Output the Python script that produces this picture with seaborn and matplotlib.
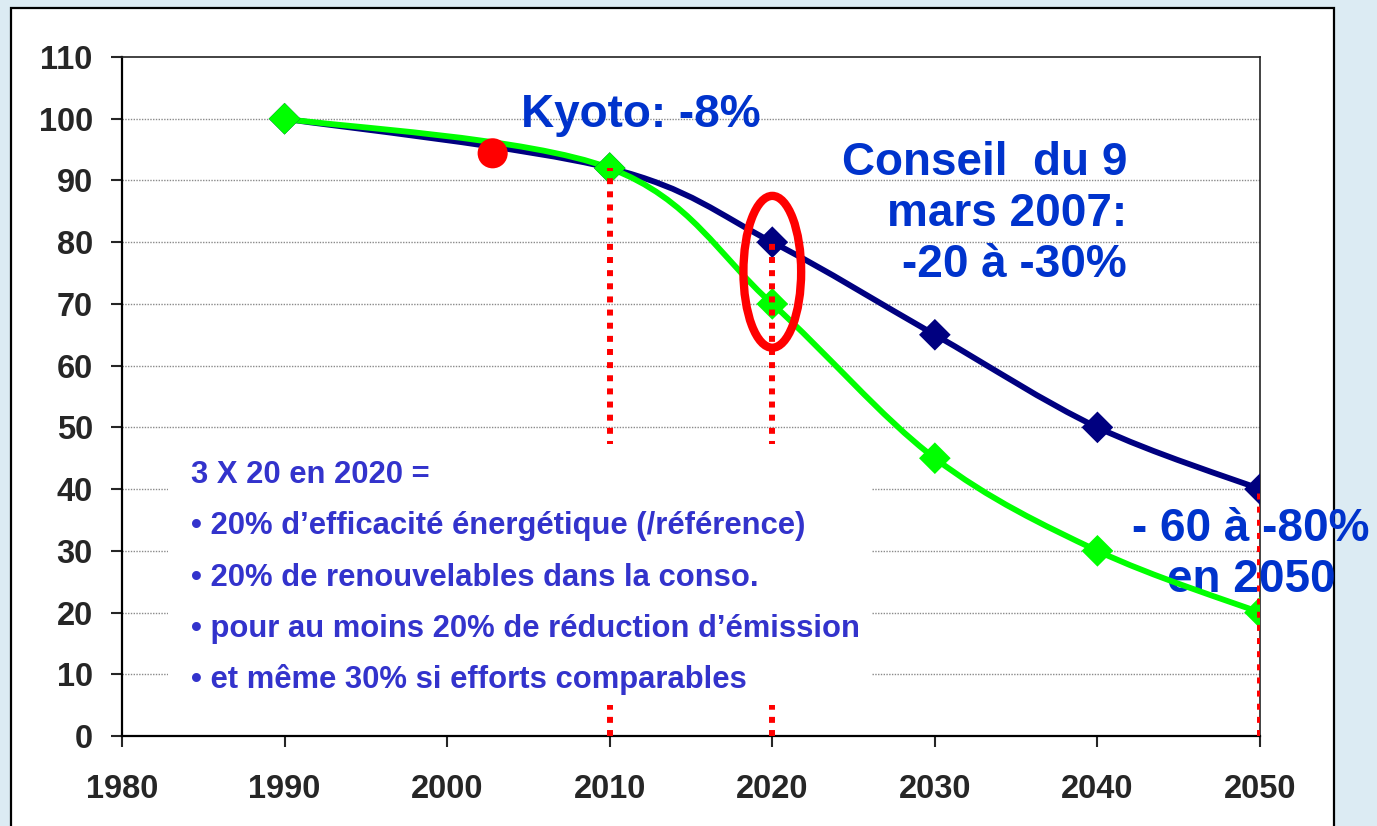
import matplotlib
matplotlib.use('Agg')
import matplotlib.pyplot as plt
import seaborn as sns
import pandas as pd
from matplotlib.path import Path
from matplotlib.patches import PathPatch, Ellipse, Rectangle

#----------------------------------------------------
years=[1990, 2010, 2020, 2030, 2040, 2050]
conseil=[100, 92, 80, 65, 50, 40]   # -20 a -30% puis -60 a -80%
objectif=[100, 92, 70, 45, 30, 20]
kyoto_year=2002.8
kyoto_val=94.4
drop_years=[2010, 2020, 2050]
drop_vals=[92, 80, 40]
x_ticks=[1980, 1990, 2000, 2010, 2020, 2030, 2040, 2050]
y_ticks=[0, 10, 20, 30, 40, 50, 60, 70, 80, 90, 100, 110]
box_lines=['3 X 20 en 2020 =',
	'• 20% d’efficacité énergétique (/référence)',
	'• 20% de renouvelables dans la conso.',
	'• pour au moins 20% de réduction d’émission',
	'• et même 30% si efforts comparables']

navy='#000080'
green='#00ff00'
red='#ff0000'
blue_txt='#0033cc'
box_txt='#3333cc'

W, H=1377, 826

#----------------------------------------------------
df=pd.DataFrame({'year': years*2, 'val': conseil+objectif,
	'serie': ['conseil']*len(years)+['objectif']*len(years)})

sns.set_style('white')
plt.rcParams['font.family']=['Liberation Sans', 'DejaVu Sans']
plt.rcParams['font.weight']='bold'

def smooth_path(xs, ys):
	pts=list(zip(xs, ys))
	verts=[pts[0]]
	codes=[Path.MOVETO]
	n=len(pts)
	for i in range(n-1):
		p0=pts[max(i-1, 0)]
		p1=pts[i]
		p2=pts[i+1]
		p3=pts[min(i+2, n-1)]
		c1=(p1[0]+(p2[0]-p0[0])/6, p1[1]+(p2[1]-p0[1])/6)
		c2=(p2[0]-(p3[0]-p1[0])/6, p2[1]-(p3[1]-p1[1])/6)
		verts+=[c1, c2, p2]
		codes+=[Path.CURVE4]*3
	return Path(verts, codes)

def fx(px):
	return px/W

def fy(py):
	return 1-py/H

fig=plt.figure(figsize=(W/100, H/100), dpi=100, facecolor='#dcebf3')
fig.patches.append(Rectangle((fx(11), -0.05), fx(1334)-fx(11), fy(8)+0.05,
	transform=fig.transFigure, facecolor='white', edgecolor='black', lw=1.6, zorder=-1))

ax=fig.add_axes([fx(122), fy(736), fx(1260)-fx(122), fy(57)-fy(736)])
ax.set_facecolor('none')

#lines
for vals, col in [(conseil, navy), (objectif, green)]:
	ax.add_patch(PathPatch(smooth_path(years, vals), fill=False, edgecolor=col, lw=4.2,
		capstyle='round', joinstyle='round', zorder=3))
sns.scatterplot(data=df, x='year', y='val', hue='serie', palette=[navy, green],
	marker='D', s=260, edgecolor='none', linewidth=0, legend=False, zorder=4, ax=ax)

#dotted drops
ax.vlines(drop_years, 0, drop_vals, colors=red, lw=4.3, linestyles=(0, (1.0, 1.2)), zorder=5)

#white text box
ax.add_patch(Rectangle((0.0404, 0.0457), 0.6186, 0.384, transform=ax.transAxes,
	facecolor='white', edgecolor='none', zorder=6))
for i, s in enumerate(box_lines):
	ax.text(fx(191), fy(483+51.3*i), s, transform=fig.transFigure, fontsize=22.3,
		color=box_txt, ha='left', va='baseline', zorder=7)

#kyoto dot + ellipse
ax.scatter([kyoto_year], [kyoto_val], s=470, color=red, edgecolor='none', zorder=6)
ax.add_patch(Ellipse((2020, 75.2), 3.55, 24.6, fill=False, edgecolor=red, lw=6, zorder=6))

#big labels (under the lines), y = baseline of last line
ax.text(fx(641), fy(127), 'Kyoto: -8%', transform=fig.transFigure, fontsize=33,
	color=blue_txt, ha='center', va='baseline', zorder=1, clip_on=False)
ax.text(fx(1127), fy(277), 'Conseil  du 9\nmars 2007:\n-20 à -30%', transform=fig.transFigure,
	fontsize=33, color=blue_txt, ha='right', va='baseline', multialignment='right',
	linespacing=1.2, zorder=1, clip_on=False)
ax.text(fx(1251), fy(592), '- 60 à -80%\nen 2050', transform=fig.transFigure,
	fontsize=33, color=blue_txt, ha='center', va='baseline', multialignment='center',
	linespacing=1.22, zorder=1, clip_on=False)

#adjust
ax.set_xlim(1980, 2050)
ax.set_ylim(0, 110)
ax.set_xticks(x_ticks)
ax.set_yticks(y_ticks)
ax.set_xlabel('')
ax.set_ylabel('')
ax.grid(False)
for y in y_ticks[1:-1]:
	ax.axhline(y, color='#8a8a8a', lw=1, ls=(0, (1, 1)), zorder=0.5)
for side in ['left', 'bottom']:
	ax.spines[side].set_linewidth(1.6)
	ax.spines[side].set_color('black')
for side in ['top', 'right']:
	ax.spines[side].set_visible(True)
	ax.spines[side].set_linewidth(1.2)
	ax.spines[side].set_color('#222222')
ax.tick_params(axis='y', direction='out', length=8, width=1.5, pad=13, labelsize=23.5, left=True)
ax.tick_params(axis='x', direction='out', length=8, width=1.5, pad=19, labelsize=23.5, bottom=True)

plt.savefig('out.png', dpi=100, facecolor=fig.get_facecolor())
plt.close()
